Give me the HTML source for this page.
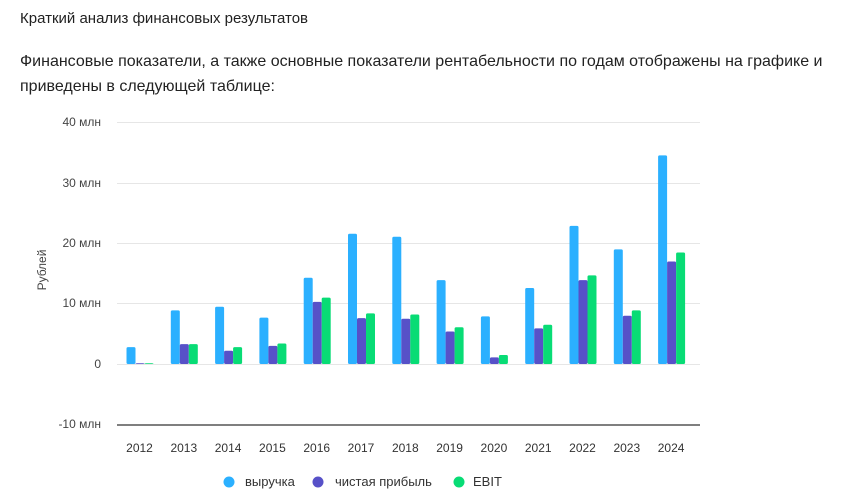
<!DOCTYPE html>
<html><head><meta charset="utf-8"><style>
body{margin:0;width:858px;height:498px;background:#fff;font-family:"Liberation Sans",sans-serif;color:#222;position:relative;overflow:hidden}
.t{position:absolute;left:20px;font-size:15px}
</style></head><body>
<div class="t" style="top:10px">Краткий анализ финансовых результатов</div>
<div class="t" style="top:49px;font-size:16px;line-height:25px;width:830px">Финансовые показатели, а также основные показатели рентабельности по годам отображены на графике и приведены в следующей таблице:</div>
<svg width="858" height="498" style="position:absolute;left:0;top:0" font-family="Liberation Sans, sans-serif">
<g stroke="#e6e6e6" stroke-width="1">
<line x1="117" x2="700" y1="122.5" y2="122.5"/><line x1="117" x2="700" y1="183.5" y2="183.5"/>
<line x1="117" x2="700" y1="243.5" y2="243.5"/><line x1="117" x2="700" y1="303.5" y2="303.5"/>
<line x1="117" x2="700" y1="364.5" y2="364.5"/></g>
<line x1="117" x2="700" y1="425" y2="425" stroke="#333" stroke-width="1.2"/>
<g font-size="12" fill="#444" text-anchor="end">
<text x="101" y="126">40 млн</text><text x="101" y="187">30 млн</text><text x="101" y="247">20 млн</text>
<text x="101" y="307">10 млн</text><text x="101" y="368">0</text><text x="101" y="428">-10 млн</text></g>
<text transform="translate(46,270) rotate(-90)" font-size="12" fill="#444" text-anchor="middle">Рублей</text>
<g id="bars"></g>
<g font-size="12" fill="#333" text-anchor="middle" id="yrs"></g>
<circle cx="229" cy="482" r="5.5" fill="#2bb0ff"/><text x="245" y="486" font-size="13" fill="#333">выручка</text>
<circle cx="318" cy="482" r="5.5" fill="#5751c8"/><text x="335" y="486" font-size="13" fill="#333">чистая прибыль</text>
<circle cx="459" cy="482" r="5.5" fill="#08dc75"/><text x="473" y="486" font-size="13" fill="#333">EBIT</text>
</svg>
<script>
var d=[[2.8,.1,.1],[8.9,3.3,3.3],[9.5,2.2,2.8],[7.7,3.0,3.4],[14.3,10.3,11.0],[21.6,7.6,8.4],[21.1,7.5,8.2],[13.9,5.4,6.1],[7.9,1.1,1.5],[12.6,5.9,6.5],[22.9,13.9,14.7],[19.0,8.0,8.9],[34.6,17.0,18.5]];
var c=["#2bb0ff","#5751c8","#08dc75"],s="",y="";
d.forEach(function(g,i){var cx=140+i*44.3;y+='<text x="'+(cx-0.5)+'" y="452">'+(2012+i)+'</text>';
g.forEach(function(v,j){var h=Math.max(v*6.03,0.8);s+='<rect x="'+(cx-13.5+j*9)+'" y="'+(364-h)+'" width="9" height="'+h+'" rx="1.5" fill="'+c[j]+'"/>';});});
document.getElementById("bars").innerHTML=s;document.getElementById("yrs").innerHTML=y;
</script>
</body></html>
